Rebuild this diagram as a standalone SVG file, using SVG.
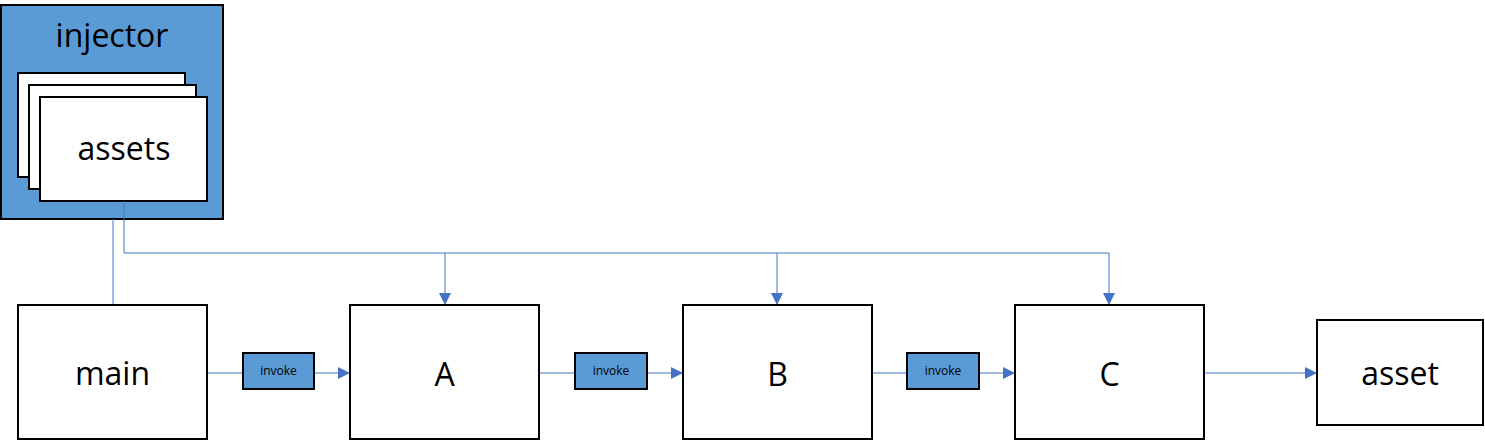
<svg xmlns="http://www.w3.org/2000/svg" width="1485" height="441" viewBox="0 0 1485 441">
<style>
.box{fill:#fff;stroke:#000;stroke-width:2}
.blue{fill:#5B9BD5;stroke:#000;stroke-width:2}
.lbl{font-family:"Open Sans","Liberation Sans",sans-serif;font-size:32px;fill:#000;text-anchor:middle}
.sm{font-family:"Open Sans","Liberation Sans",sans-serif;font-size:12px;fill:#000;text-anchor:middle}
.ln{fill:none;stroke:#4472C4;stroke-width:1}
</style>
<defs>
<marker id="arr" viewBox="0 0 12 12" refX="12" refY="6" markerWidth="12" markerHeight="12" markerUnits="userSpaceOnUse" orient="auto">
<path d="M0,0 L12,6 L0,12 Z" fill="#4472C4"/>
</marker>
</defs>
<rect width="1485" height="441" fill="#fff"/>
<g id="injector">
<rect class="blue" x="1" y="5" width="222" height="214"/>
<text class="lbl" x="112" y="47">injector</text>
</g>
<g id="assets">
<rect class="box" x="18" y="73" width="167" height="104"/>
<rect class="box" x="29" y="85" width="167" height="104"/>
<rect class="box" x="40" y="97" width="167" height="104"/>
<text class="lbl" x="124" y="160">assets</text>
</g>
<g id="connectors">
<path class="ln" d="M113,219 V305"/>
<path class="ln" d="M124,201 V253 H1109"/>
<path class="ln" d="M445,253 V305" marker-end="url(#arr)"/>
<path class="ln" d="M777,253 V305" marker-end="url(#arr)"/>
<path class="ln" d="M1109,253 V305" marker-end="url(#arr)"/>
<path class="ln" d="M207,373 H243"/>
<path class="ln" d="M314,373 H350" marker-end="url(#arr)"/>
<path class="ln" d="M539,373 H575"/>
<path class="ln" d="M647,373 H683" marker-end="url(#arr)"/>
<path class="ln" d="M872,373 H907"/>
<path class="ln" d="M979,373 H1015" marker-end="url(#arr)"/>
<path class="ln" d="M1204,373 H1317" marker-end="url(#arr)"/>
</g>
<g id="main">
<rect class="box" x="18" y="305" width="189" height="134"/>
<text class="lbl" x="112.5" y="385">main</text>
</g>
<g id="invoke1">
<rect class="blue" x="243" y="353" width="71" height="36"/>
<text class="sm" x="278.5" y="375">invoke</text>
</g>
<g id="A">
<rect class="box" x="350" y="305" width="189" height="134"/>
<text class="lbl" x="444.5" y="386">A</text>
</g>
<g id="invoke2">
<rect class="blue" x="575" y="353" width="72" height="36"/>
<text class="sm" x="611" y="375">invoke</text>
</g>
<g id="B">
<rect class="box" x="683" y="305" width="189" height="134"/>
<text class="lbl" x="777.5" y="386">B</text>
</g>
<g id="invoke3">
<rect class="blue" x="907" y="353" width="72" height="36"/>
<text class="sm" x="943" y="375">invoke</text>
</g>
<g id="C">
<rect class="box" x="1015" y="305" width="189" height="134"/>
<text class="lbl" x="1109.5" y="386">C</text>
</g>
<g id="asset">
<rect class="box" x="1317" y="320" width="166" height="105"/>
<text class="lbl" x="1400" y="385">asset</text>
</g>
</svg>
